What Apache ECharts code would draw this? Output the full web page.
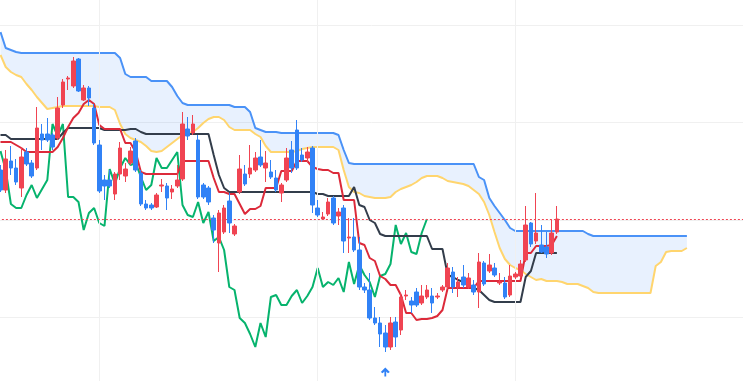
<!DOCTYPE html>
<html>
<head>
<meta charset="utf-8">
<script src="https://cdn.jsdelivr.net/npm/echarts/dist/echarts.min.js"></script>
<style>html,body{margin:0;padding:0;background:#fff;overflow:hidden}#chart{width:743px;height:381px}</style>
</head>
<body>
<div id="chart"></div>
<script>
// ---- data ----
const categories = Array.from({length: 144}, (_, i) => 'D' + (i + 1));

const opens = [3170,3150,3179,3172,3152,3188,3177,3172,3206,3206,
3205,3202,3235,3261,3254,3281,3240,3252,3232,3195,
3160,3160,3146,3166,3164,3177,3199,3167,3136,3135,
3133,3154,3154,3148,3154,3161,3211,3207,3200,3155,
3152,3122,3097,3108,3139,3106,3148,3166,3166,3170,
3183,3172,3168,3162,3147,3160,3190,3210,3185,3182,
3192,3132,3121,3126,3142,3124,3132,3102,3103,3090,
3053,3050,3022,3017,3007,2993,3018,3010,3044,3039,
3048,3037,3043,3044,3043,3050,3053,3068,3053,3063,
3053,3055,3048,3077,3069,3072,3057,3057,3045,3063,
3064,3080,3117,3099,3095,3093,3087,3108];

const closes = [3150,3181,3172,3158,3183,3176,3164,3212,3200,3200,
3193,3232,3258,3262,3279,3249,3252,3242,3197,3149,
3154,3154,3166,3192,3171,3189,3170,3136,3132,3132,
3145,3155,3142,3151,3160,3216,3204,3216,3143,3143,
3138,3110,3127,3132,3117,3114,3171,3156,3172,3182,
3175,3177,3163,3150,3155,3182,3172,3172,3180,3188,
3135,3125,3123,3138,3117,3128,3099,3103,3090,3053,
3050,3022,3017,3006,2993,3017,3003,3043,3045,3035,
3035,3044,3050,3037,3044,3053,3072,3053,3058,3055,
3062,3048,3078,3056,3075,3065,3058,3043,3064,3066,
3076,3115,3096,3107,3088,3086,3107,3121];

const highs = [3175,3190,3194,3181,3193,3192,3180,3233,3216,3222,
3207,3243,3261,3264,3283,3282,3255,3254,3236,3200,
3165,3170,3168,3198,3177,3193,3202,3170,3140,3137,
3147,3161,3157,3155,3175,3228,3223,3225,3205,3157,
3154,3125,3130,3135,3147,3116,3185,3175,3195,3188,
3200,3189,3180,3170,3157,3192,3199,3220,3192,3193,
3194,3140,3128,3142,3144,3132,3135,3122,3122,3103,
3057,3067,3033,3023,3015,3023,3023,3047,3050,3043,
3052,3055,3055,3052,3047,3055,3077,3073,3063,3075,
3067,3060,3087,3079,3086,3077,3067,3063,3075,3068,
3080,3134,3118,3147,3115,3108,3120,3134];

const lows = [3148,3147,3165,3155,3143,3174,3162,3170,3190,3198,
3190,3200,3232,3250,3252,3248,3239,3234,3195,3147,
3140,3152,3140,3160,3158,3175,3168,3134,3130,3130,
3132,3148,3130,3141,3152,3159,3200,3205,3141,3141,
3135,3097,3068,3106,3107,3104,3146,3154,3162,3168,
3173,3158,3161,3148,3138,3158,3167,3170,3178,3178,
3127,3123,3120,3124,3115,3115,3087,3087,3088,3050,
3047,3020,3015,2993,2988,2990,2993,3005,3040,3027,
3033,3035,3041,3027,3041,3048,3051,3047,3043,3052,
3051,3045,3032,3054,3067,3063,3055,3041,3043,3061,
3062,3078,3093,3096,3087,3082,3085,3106];

const tenkan = [3198,3198,3198,3195,3192,3188,3188,3188,3188,3188,
3188,3193,3202,3213,3222,3227,3236,3240,3236,3215,
3211,3211,3211,3211,3197,3197,3188,3168,3166,3166,
3166,3166,3166,3166,3166,3179,3179,3179,3179,3179,
3179,3162,3148,3148,3146,3146,3136,3126,3131,3131,
3134,3152,3152,3152,3169,3169,3169,3179,3179,3179,
3173,3171,3170,3170,3167,3167,3140,3140,3140,3097,
3095,3082,3079,3064,3061,3055,3055,3045,3027,3027,
3020,3021,3021,3022,3024,3030,3052,3052,3052,3052,
3052,3052,3059,3059,3059,3059,3059,3059,3059,3059,
3059,3087,3087,3094,3094,3094,3095,3104];

const kijun = [3205,3205,3201,3201,3201,3201,3201,3201,3201,3201,
3201,3201,3207,3212,3212,3212,3212,3212,3212,3212,
3210,3210,3210,3210,3210,3211,3211,3208,3206,3206,
3206,3206,3206,3206,3206,3206,3206,3206,3206,3206,
3206,3185,3165,3152,3148,3148,3148,3148,3148,3148,
3148,3148,3148,3148,3148,3148,3148,3148,3148,3148,
3148,3146,3146,3144,3144,3144,3144,3144,3153,3135,
3133,3120,3117,3106,3104,3104,3104,3104,3104,3104,
3104,3104,3104,3091,3091,3091,3065,3063,3060,3058,
3055,3052,3050,3045,3040,3038,3038,3038,3038,3038,
3038,3063,3069,3087,3087,3087,3087,3087];

const senkouA = [3285,3273,3268,3265,3263,3256,3250,3243,3237,3231,
3232,3233,3234,3234,3234,3234,3234,3234,3234,3233,
3233,3233,3230,3216,3206,3202,3200,3198,3194,3189,
3188,3189,3193,3197,3201,3205,3207,3208,3212,3217,
3221,3223,3223,3220,3213,3210,3210,3210,3210,3206,
3203,3194,3188,3188,3188,3188,3188,3189,3191,3192,
3193,3193,3193,3193,3193,3190,3170,3153,3148,3147,
3144,3143,3142,3142,3142,3143,3148,3151,3153,3155,
3158,3162,3164,3164,3164,3162,3159,3158,3157,3156,
3154,3150,3146,3138,3125,3108,3092,3081,3075,3072,
3070,3066,3063,3060,3061,3059,3059,3059,3058,3056,
3056,3056,3054,3052,3048,3047,3047,3047,3047,3047,
3047,3047,3047,3047,3047,3047,3074,3078,3088,3089,
3089,3089,3092];

const senkouB = [3308,3292,3290,3288,3287,3287,3287,3287,3287,3287,
3287,3287,3287,3287,3287,3287,3287,3287,3287,3287,
3287,3287,3287,3282,3266,3263,3263,3263,3263,3259,
3259,3259,3259,3253,3244,3237,3235,3235,3235,3235,
3235,3235,3235,3235,3235,3233,3233,3233,3228,3212,
3210,3208,3208,3208,3207,3207,3207,3207,3207,3207,
3207,3207,3207,3207,3207,3205,3190,3177,3176,3176,
3176,3176,3176,3176,3176,3176,3176,3176,3176,3176,
3176,3176,3176,3176,3176,3176,3176,3176,3176,3176,
3176,3176,3163,3160,3142,3134,3127,3120,3112,3109,
3109,3109,3109,3109,3109,3109,3109,3109,3109,3109,
3109,3109,3109,3106,3104,3104,3104,3104,3104,3104,
3104,3104,3104,3104,3104,3104,3104,3104,3104,3104,
3104,3104,3104];

const chikouShift = 25;            // lagging span displacement (bars)
const timeGridIdx = [19, 61, 99];  // bars carrying the vertical time grid lines
const markerIdx = 74;              // bar with the buy marker (arrow up)

// ---- derived ----
const candles = opens.map((o, i) => [o, closes[i], lows[i], highs[i]]);
const chikou = closes.slice(chikouShift);
const cloudBase = senkouA.map((a, i) => Math.min(a, senkouB[i]));
const cloudDiff = senkouA.map((a, i) => Math.abs(a - senkouB[i]));

const UP = '#f04452', DOWN = '#3182f6';
const chart = echarts.init(document.getElementById('chart'), null, {renderer: 'canvas'});

const lineBase = {type: 'line', symbol: 'none', showSymbol: false, silent: true, smooth: false};

chart.setOption({
  animation: false,
  backgroundColor: '#ffffff',
  grid: {left: -2.1, width: 748.8, top: -72.5, height: 487.5, containLabel: false, outerBoundsMode: 'none'},
  xAxis: {
    type: 'category', data: categories, boundaryGap: true,
    axisLine: {show: false}, axisTick: {show: false}, axisLabel: {show: false}, splitLine: {show: false}
  },
  yAxis: {
    type: 'value', min: 2925, max: 3412.5, interval: 97.5,
    axisLine: {show: false}, axisTick: {show: false}, axisLabel: {show: false},
    splitLine: {show: true, lineStyle: {color: '#f0f0f0', width: 1}}
  },
  series: [
    Object.assign({}, lineBase, {
      name: 'cloudBase', data: cloudBase, stack: 'cloud', z: 1,
      lineStyle: {opacity: 0},
      markLine: {
        silent: true, symbol: ['none', 'none'], label: {show: false},
        lineStyle: {color: '#f0f0f0', width: 1, type: 'solid'},
        data: timeGridIdx.map(i => ({xAxis: categories[i]}))
      }
    }),
    Object.assign({}, lineBase, {
      name: 'cloud', data: cloudDiff, stack: 'cloud', z: 2,
      lineStyle: {opacity: 0},
      areaStyle: {color: 'rgba(49,130,246,0.11)', opacity: 1}
    }),
    Object.assign({}, lineBase, {name: 'senkouB', data: senkouB, z: 3, lineStyle: {color: '#4a92f7', width: 2}}),
    Object.assign({}, lineBase, {name: 'senkouA', data: senkouA, z: 3, lineStyle: {color: '#ffd56e', width: 2}}),
    Object.assign({}, lineBase, {name: 'chikou', data: chikou, z: 4, lineStyle: {color: '#06b36d', width: 2}}),
    Object.assign({}, lineBase, {name: 'kijun', data: kijun, z: 4, lineStyle: {color: '#333d4b', width: 2}}),
    Object.assign({}, lineBase, {name: 'tenkan', data: tenkan, z: 4, lineStyle: {color: '#dc2a3a', width: 2}}),
    {
      name: 'price', type: 'candlestick', data: candles, z: 5, barWidth: '78%', silent: true,
      itemStyle: {color: UP, color0: DOWN, borderColor: UP, borderColor0: DOWN, borderWidth: 1},
      markLine: {
        silent: true, symbol: ['none', 'none'], label: {show: false},
        lineStyle: {color: UP, width: 1, type: [2, 2]},
        data: [{yAxis: closes[closes.length - 1]}]
      },
      markPoint: {
        silent: true, label: {show: false},
        data: [{
          coord: [categories[markerIdx], lows[markerIdx]],
          symbol: 'path://M5,0 L10,5 L8,6.5 L6,4.5 L6,10 L4,10 L4,4.5 L2,6.5 L0,5 Z',
          symbolSize: [9, 9], symbolOffset: [0, 20],
          itemStyle: {color: DOWN}
        }]
      }
    }
  ]
});
</script>
</body>
</html>
